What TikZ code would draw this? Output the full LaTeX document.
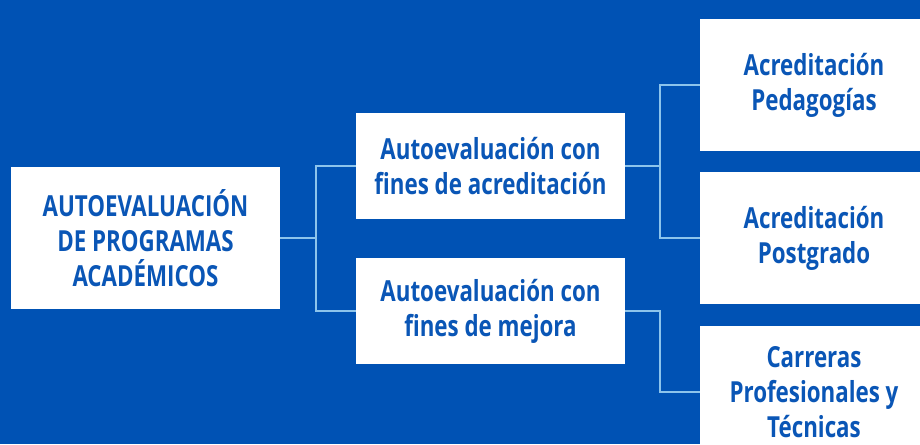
\documentclass[tikz,border=0pt]{standalone}
\usepackage{fontspec}
\usepackage{tikz}
\usepackage{xcolor}
\setmainfont{Open Sans}
\newfontfamily\condfont{Open Sans}[FakeStretch=0.77]
\usetikzlibrary{positioning}
\definecolor{bgblue}{HTML}{0052B4}
\definecolor{txtblue}{HTML}{0A56B6}
\definecolor{linkblue}{HTML}{8CC4EC}
\tikzstyle{link} = [line width=2pt, draw=linkblue]

\begin{document}
\begin{tikzpicture}[
        x=1pt, y=-1pt,
        align=center,
        font=\condfont\bfseries\fontsize{29}{35}\selectfont,
        every node/.style={fill=white, text=txtblue, inner sep=0pt, align=center}
    ]
        % Background
        \fill[bgblue] (0,0) rectangle (920,444);
        \clip (0,0) rectangle (920,444);

        % Nodes
        \node[minimum width=269pt, minimum height=142pt] (root) at (145.5,238) {AUTOEVALUACIÓN\\DE PROGRAMAS\\ACADÉMICOS};
        \node[minimum width=269pt, minimum height=106pt] (acred) at (490.5,166) {Autoevaluación con\\fines de acreditación};
        \node[minimum width=269pt, minimum height=106pt] (mejora) at (490.5,311) {Autoevaluación con\\fines de mejora};
        \node[minimum width=228pt, minimum height=132pt] (pedag) at (814,85) {Acreditación\\Pedagogías};
        \node[minimum width=228pt, minimum height=132pt] (postg) at (814,238) {Acreditación\\Postgrado};
        \node[minimum width=228pt, minimum height=132pt] (carreras) at (814,392) {Carreras\\Profesionales y\\Técnicas};

        % Connectors
        \draw[link] (root.east) -- ++(36,0) |- (acred.west);
        \draw[link] (root.east) -- ++(36,0) |- (mejora.west);
        \draw[link] (acred.east) -- ++(35,0) |- (pedag.west);
        \draw[link] (acred.east) -- ++(35,0) |- (postg.west);
        \draw[link] (mejora.east) -- ++(35,0) |- (carreras.west);
    \end{tikzpicture}
\end{document}
